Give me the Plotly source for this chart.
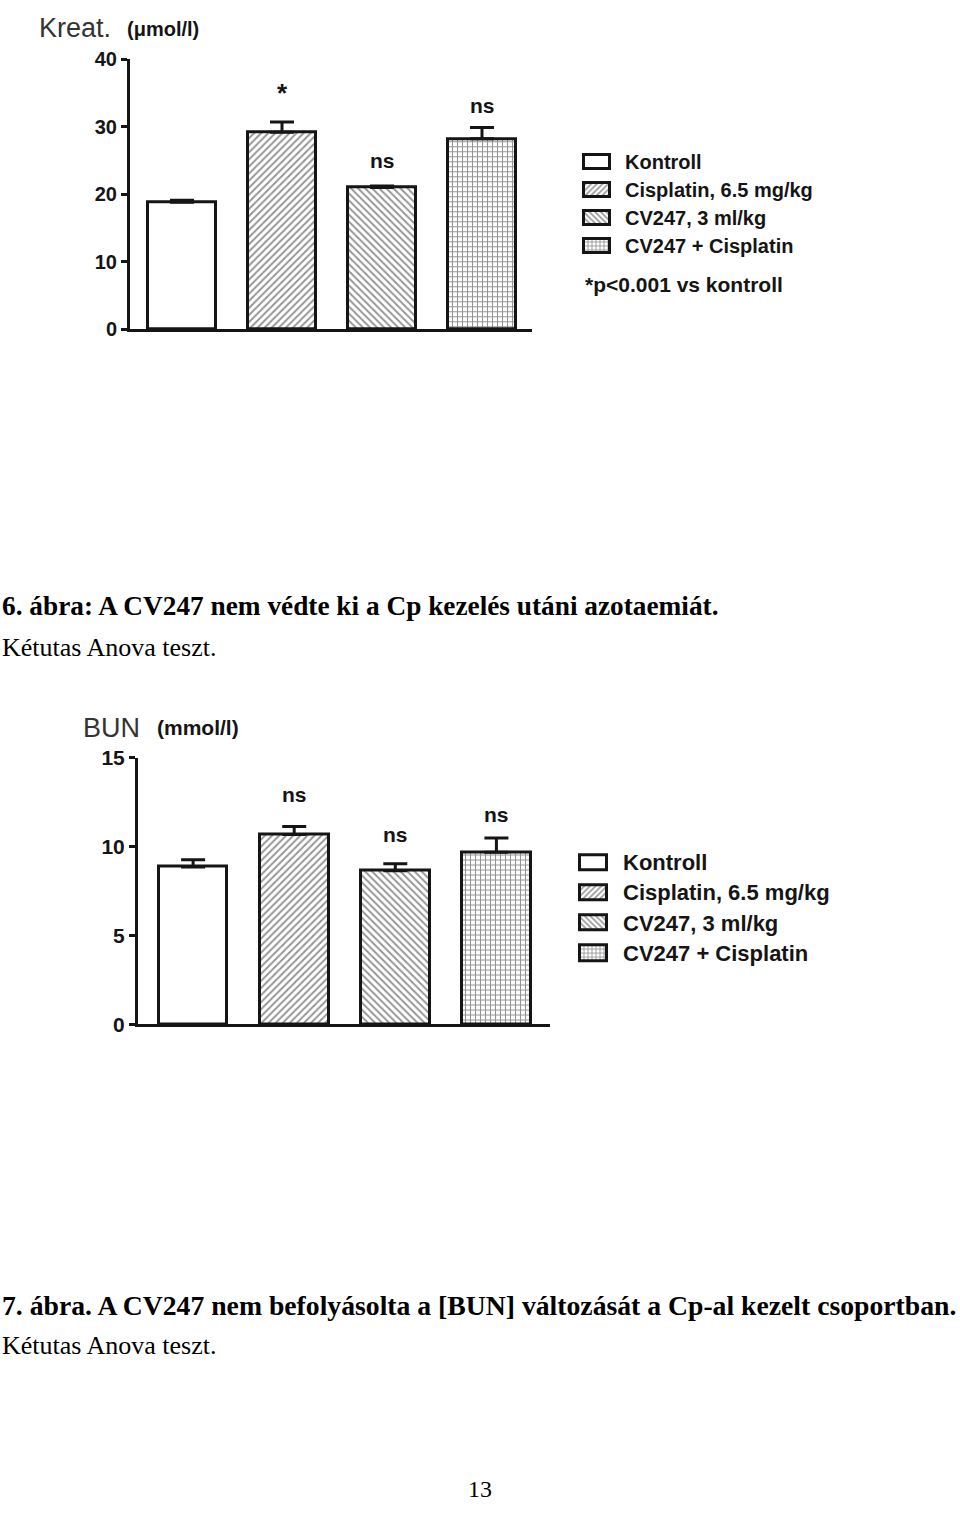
import plotly.graph_objects as go

W, H = 960, 1516

groups = ["Kontroll", "Cisplatin, 6.5 mg/kg", "CV247, 3 ml/kg", "CV247 + Cisplatin"]
patterns = ["", "/", "\\", "+"]

kreat_mean = [18.8, 29.2, 21.0, 28.2]
kreat_err = [0.3, 1.5, 0.2, 1.7]
kreat_sig = ["", "*", "ns", "ns"]

bun_mean = [8.85, 10.68, 8.63, 9.68]
bun_err = [0.4, 0.45, 0.4, 0.8]
bun_sig = ["", "ns", "ns", "ns"]

kreat_ticks = [0, 10, 20, 30, 40]
bun_ticks = [0, 5, 10, 15]

caption6 = "6. ábra: A CV247 nem védte ki a Cp kezelés utáni azotaemiát."
caption7 = "7. ábra. A CV247 nem befolyásolta a [BUN] változását a Cp-al kezelt csoportban."
subcaption = "Kétutas Anova teszt."
footnote = "*p<0.001 vs kontroll"
page_no = "13"

INK = "#151515"
HATCH = "#2a2a2a"
SANS = "Liberation Sans, Arial, sans-serif"
SERIF = "Liberation Serif, Times New Roman, serif"


def py(px):
    return 1 - px / H


def px_(x):
    return x / W


fig = go.Figure()
idx = list(range(len(groups)))

# main bars
for (means, errs, xa, ya) in [(kreat_mean, kreat_err, "x", "y"), (bun_mean, bun_err, "x2", "y2")]:
    fig.add_trace(go.Bar(
        x=idx, y=means, width=0.68,
        xaxis=xa, yaxis=ya,
        marker=dict(
            color="white",
            line=dict(color=INK, width=3),
            pattern=dict(shape=patterns, fgcolor=HATCH, bgcolor="white", size=5, solidity=0.38),
        ),
        error_y=dict(type="data", symmetric=False, array=errs, arrayminus=[0] * len(errs),
                     color=INK, thickness=3, width=12),
        showlegend=False,
    ))

# legend swatches (horizontal bars in small axes)
for (xa, ya) in [("x3", "y3"), ("x4", "y4")]:
    fig.add_trace(go.Bar(
        y=groups, x=[1] * len(groups), orientation="h", width=0.5,
        xaxis=xa, yaxis=ya,
        marker=dict(
            color="white",
            line=dict(color=INK, width=3),
            pattern=dict(shape=patterns, fgcolor=HATCH, bgcolor="white", size=4, solidity=0.4),
        ),
        showlegend=False,
    ))

axis_common = dict(showgrid=False, zeroline=False, showline=True, linecolor=INK, linewidth=3)

fig.update_layout(
    width=W, height=H,
    margin=dict(l=0, r=0, t=0, b=0),
    paper_bgcolor="white", plot_bgcolor="white",
    bargap=0,
    xaxis=dict(domain=[px_(130), px_(532)], range=[-0.52, 3.5], anchor="y",
               showticklabels=False, ticks="", **axis_common),
    yaxis=dict(domain=[py(322), py(48)], range=[0, 40], anchor="x",
               tickvals=kreat_ticks, ticks="outside", ticklen=6, tickwidth=3, tickcolor=INK,
               tickfont=dict(family=SANS, size=20, color=INK, weight="bold"), **axis_common),
    xaxis2=dict(domain=[px_(138), px_(550)], range=[-0.545, 3.53], anchor="y2",
                showticklabels=False, ticks="", **axis_common),
    yaxis2=dict(domain=[py(1028), py(757)], range=[0, 15], anchor="x2",
                tickvals=bun_ticks, ticks="outside", ticklen=6, tickwidth=3, tickcolor=INK,
                tickfont=dict(family=SANS, size=21, color=INK, weight="bold"), **axis_common),
    xaxis3=dict(domain=[px_(582), px_(612)], range=[-0.06, 1.06], anchor="y3", visible=False),
    yaxis3=dict(domain=[py(252), py(138)], anchor="x3", autorange="reversed", side="right",
                showgrid=False, zeroline=False, showline=False, ticks="", ticklabelstandoff=12,
                tickfont=dict(family=SANS, size=20, color=INK, weight="bold")),
    xaxis4=dict(domain=[px_(578), px_(609)], range=[-0.06, 1.06], anchor="y4", visible=False),
    yaxis4=dict(domain=[py(971), py(848)], anchor="x4", autorange="reversed", side="right",
                showgrid=False, zeroline=False, showline=False, ticks="", ticklabelstandoff=13,
                tickfont=dict(family=SANS, size=22, color=INK, weight="bold")),
)

ann = []
# significance markers
for (means, errs, sigs, xr, yr, shifts) in [
    (kreat_mean, kreat_err, kreat_sig, "x", "y", [0, 12, 12, 8]),
    (bun_mean, bun_err, bun_sig, "x2", "y2", [0, 18, 16, 10]),
]:
    for i, s in enumerate(sigs):
        if not s:
            continue
        ann.append(dict(x=i, y=means[i] + errs[i], xref=xr, yref=yr, text=s, showarrow=False,
                        yanchor="bottom", yshift=shifts[i],
                        font=dict(family=SANS, size=26 if s == "*" else 21, color=INK, weight="bold")))

# axis titles
ann += [
    dict(x=px_(37), y=py(16), xref="paper", yref="paper", text="Kreat.", showarrow=False,
         xanchor="left", yanchor="middle", font=dict(family=SANS, size=27, color="#333333")),
    dict(x=px_(125), y=py(17), xref="paper", yref="paper", text="(μmol/l)", showarrow=False,
         xanchor="left", yanchor="middle", font=dict(family=SANS, size=20, color=INK, weight="bold")),
    dict(x=px_(81), y=py(727), xref="paper", yref="paper", text="BUN", showarrow=False,
         xanchor="left", yanchor="middle", font=dict(family=SANS, size=27, color="#333333")),
    dict(x=px_(155), y=py(727), xref="paper", yref="paper", text="(mmol/l)", showarrow=False,
         xanchor="left", yanchor="middle", font=dict(family=SANS, size=21, color=INK, weight="bold")),
    dict(x=px_(583), y=py(277), xref="paper", yref="paper", text=footnote, showarrow=False,
         xanchor="left", yanchor="middle", font=dict(family=SANS, size=21, color=INK, weight="bold")),
]

# captions
ann += [
    dict(x=0, y=py(603), xref="paper", yref="paper", text=caption6, showarrow=False,
         xanchor="left", yanchor="middle", font=dict(family=SERIF, size=27.3, color="black", weight="bold")),
    dict(x=0, y=py(645), xref="paper", yref="paper", text=subcaption, showarrow=False,
         xanchor="left", yanchor="middle", font=dict(family=SERIF, size=26, color="black")),
    dict(x=0, y=py(1313), xref="paper", yref="paper", text=caption7, showarrow=False,
         xanchor="left", yanchor="middle", font=dict(family=SERIF, size=27.7, color="black", weight="bold")),
    dict(x=0, y=py(1354), xref="paper", yref="paper", text=subcaption, showarrow=False,
         xanchor="left", yanchor="middle", font=dict(family=SERIF, size=26, color="black")),
    dict(x=0.5, y=py(1500), xref="paper", yref="paper", text=page_no, showarrow=False,
         xanchor="center", yanchor="middle", font=dict(family=SERIF, size=24, color="black")),
]

fig.update_layout(annotations=ann)

fig.write_html("out.html")
